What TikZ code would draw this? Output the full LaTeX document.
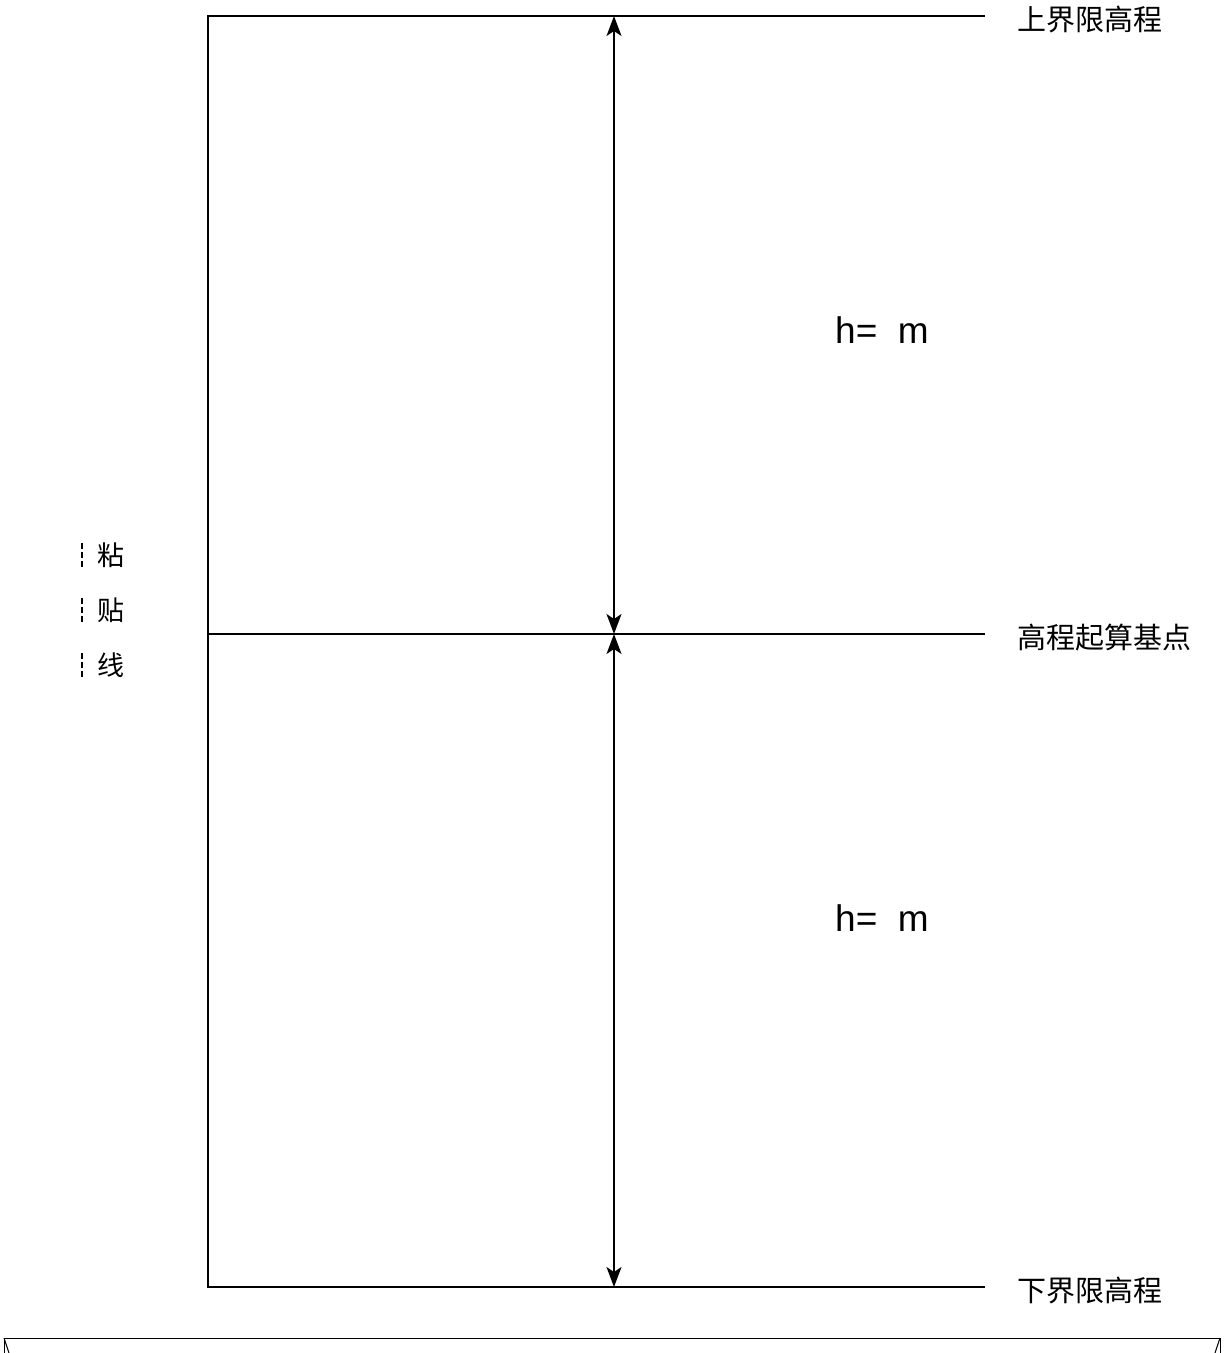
\documentclass[tikz,border=0pt]{standalone}
\usepackage{fontspec}
\setmainfont{Liberation Sans}
\newfontfamily\cjk{Noto Sans CJK SC}
\usetikzlibrary{arrows.meta, positioning}

\begin{document}
\begin{tikzpicture}[x=1pt,y=-1pt,line width=1.5pt,
            >={Stealth[length=20pt,width=15pt,inset=5pt]},
            lbl/.style={anchor=west, inner sep=0pt, yshift=-4pt, font=\cjk\fontsize{29}{34}\selectfont},
            hval/.style={inner sep=0pt, font=\fontsize{37}{44}\selectfont},
            paste/.style={inner sep=0pt, font=\cjk\fontsize{27}{32}\selectfont},
            cutline/.style={line width=1.6pt, dash pattern=on 6pt off 3pt}]
            \useasboundingbox (0,0) rectangle (1225,1353);

            % frame
            \coordinate (tl) at (208,16);
            \coordinate (tr) at (985,16);
            \coordinate (ml) at (208,634);
            \coordinate (mr) at (985,634);
            \coordinate (bl) at (208,1287);
            \coordinate (br) at (985,1287);
            \draw (tr) -- (tl) -- (bl) -- (br);
            \draw (ml) -- (mr);

            % dimension arrows
            \coordinate (at) at (614,16);
            \coordinate (am) at (614,634);
            \coordinate (ab) at (614,1287);
            \draw [<->] (at) -- (am);
            \draw [<->] (am) -- (ab);

            \node [lbl, right=32pt of tr] (upper) {上界限高程};
            \node [lbl, right=32pt of mr] (base) {高程起算基点};
            \node [lbl, right=32pt of br] (lower) {下界限高程};

            \node [hval] at (882,330) (hup) {h=\ \ m};
            \node [hval] at (882,918) (hdown) {h=\ \ m};

            % paste line
            \node [paste] at (111,555) (p1) {粘};
            \node [paste] at (111,610) (p2) {贴};
            \node [paste] at (111,665) (p3) {线};
            \draw [cutline] ([xshift=-29pt,yshift=-12pt]p1.center) -- ([xshift=-29pt,yshift=13pt]p1.center);
            \draw [cutline] ([xshift=-29pt,yshift=-12pt]p2.center) -- ([xshift=-29pt,yshift=13pt]p2.center);
            \draw [cutline] ([xshift=-29pt,yshift=-12pt]p3.center) -- ([xshift=-29pt,yshift=13pt]p3.center);

            % bottom edge
            \coordinate (el) at (4,1338);
            \coordinate (er) at (1220,1338);
            \draw [line width=1pt] (4,1353) -- (el) -- (er) -- (1220,1353);
            \draw [line width=1pt] (el) -- (9,1353);
            \draw [line width=1pt] (er) -- (1215,1353);
\end{tikzpicture}
\end{document}
